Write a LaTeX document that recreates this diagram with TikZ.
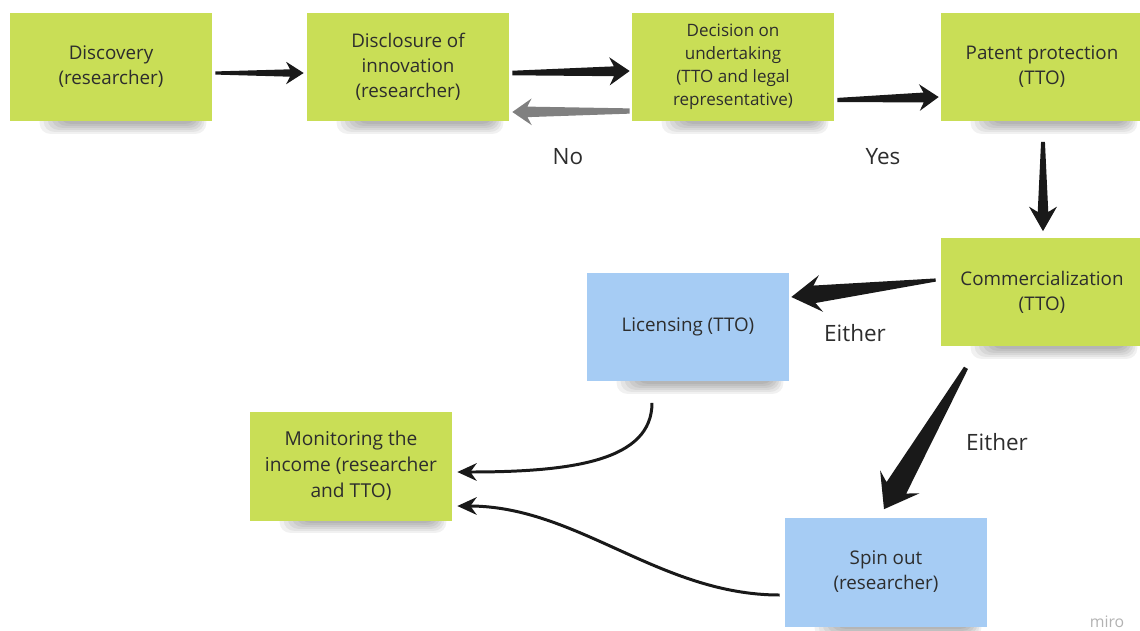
\documentclass[tikz,border=0pt]{standalone}
\usepackage{fontspec}
\setmainfont{Open Sans}
\usetikzlibrary{calc, arrows.meta, backgrounds}

\definecolor{notegreen}{RGB}{201,222,86}
\definecolor{noteblue}{RGB}{166,204,244}
\definecolor{inkgray}{RGB}{45,45,45}
\definecolor{backgray}{RGB}{128,128,128}

\tikzset{
  note/.style={rectangle, fill=notegreen, minimum width=4.04cm, minimum height=2.18cm,
    align=center, text=inkgray, font=\fontsize{10.7}{14.2}\selectfont},
  bluenote/.style={note, fill=noteblue},
  answer/.style={text=inkgray, font=\fontsize{12.8}{15}\selectfont},
  % tapered arrow: tail half width, neck half width, head half width, head length
  taper/.style n args={4}{to path={
      ($(\tikztotarget)!#4!(\tikztostart)$) coordinate (tpH)
      ($(tpH)!0.22!(\tikztotarget)$) coordinate (tpN)
      ($(\tikztostart)!#1!90:(\tikztotarget)$) --
      ($(tpN)!#2!90:(\tikztotarget)$) --
      ($(tpH)!#3!90:(\tikztotarget)$) --
      (\tikztotarget) --
      ($(tpH)!#3!-90:(\tikztotarget)$) --
      ($(tpN)!#2!-90:(\tikztotarget)$) --
      ($(\tikztostart)!#1!-90:(\tikztotarget)$) -- cycle}},
  curved/.style={draw=black!90, line width=1.7pt, -{Stealth[length=11pt, width=10pt]}}
}

\begin{document}
\begin{tikzpicture}[x=0.02cm, y=-0.02cm]
  \useasboundingbox (0,0) rectangle (1140,630);

  % top row
  \node[note] (disc) at (111,67) {Discovery\\(researcher)};
  \node[note] (discl) at (408,67) {Disclosure of\\innovation\\(researcher)};
  \node[note, font=\fontsize{9.7}{13}\selectfont] (dec) at (733,67)
    {Decision on\\undertaking\\(TTO and legal\\representative)};
  \node[note] (pat) at (1042,67) {Patent protection\\(TTO)};

  % commercialization branch
  \node[note] (comm) at (1042,292) {Commercialization\\(TTO)};
  \node[bluenote] (lic) at (688,327) {Licensing (TTO)};
  \node[bluenote] (spin) at (886,572) {Spin out\\(researcher)};
  \node[note, font=\fontsize{10.9}{14.7}\selectfont] (mon) at (351,466)
    {Monitoring the\\income (researcher\\and TTO)};

  % soft shadows under the notes
  \begin{scope}[on background layer]
    \foreach \n in {disc, discl, dec, pat, comm, lic, mon, spin}
      \foreach \k in {1,...,6}
        \fill[black, opacity=0.055, rounded corners=6]
          ($(\n.south west)+(26+4*\k,-20)$) rectangle ($(\n.south east)+(-4-2*\k,14-2*\k)$);
  \end{scope}

  % arrow ends
  \coordinate (a1s) at ($(disc.east)+(3,6)$);
  \coordinate (a1e) at ($(discl.west)+(-3,6)$);
  \coordinate (a2s) at ($(discl.east)+(3,6)$);
  \coordinate (a2e) at ($(dec.west)+(-2,4)$);
  \coordinate (a3s) at ($(dec.west)+(-2,44)$);
  \coordinate (a3e) at ($(discl.east)+(3,45)$);
  \coordinate (a4s) at ($(dec.east)+(3,33)$);
  \coordinate (a4e) at ($(pat.west)+(-2,30)$);
  \coordinate (a5s) at ($(pat.south)+(1,20)$);
  \coordinate (a5e) at ($(comm.north)+(1,-6)$);
  \coordinate (a6s) at ($(comm.west)+(-5,-12)$);
  \coordinate (a6e) at ($(lic.east)+(2,-30)$);
  \coordinate (a7s) at ($(comm.south)+(-76,21)$);
  \coordinate (a7e) at ($(spin.north)+(-2,-8)$);

  % tapered arrows
  \fill[black!90] (a1s) to[taper={0.9pt}{2.1pt}{6.4pt}{10pt}] (a1e);
  \fill[black!90] (a2s) to[taper={1.3pt}{2.8pt}{8pt}{11.5pt}] (a2e);
  \fill[backgray] (a3s) to[taper={1.5pt}{3pt}{7.6pt}{11pt}] (a3e);
  \fill[black!90] (a4s) to[taper={1.2pt}{2.8pt}{7.6pt}{11pt}] (a4e);
  \fill[black!90] (a5s) to[taper={1.1pt}{3pt}{8pt}{14pt}] (a5e);
  \fill[black!90] (a6s) to[taper={0.9pt}{5pt}{10.5pt}{17pt}] (a6e);
  \fill[black!90] (a7s) to[taper={1.3pt}{6.5pt}{13pt}{18pt}] (a7e);

  % answers
  \node[answer] (no) at (568,157) {No};
  \node[answer] (yes) at (883,157) {Yes};
  \node[answer] (either1) at (855,333) {Either};
  \node[answer] (either2) at (997,442) {Either};

  % curved arrows into monitoring
  \coordinate (c1s) at ($(lic.south)+(-36,21)$);
  \coordinate (c1e) at ($(mon.east)+(5,6)$);
  \coordinate (c2s) at ($(spin.west)+(-5,23)$);
  \coordinate (c2e) at ($(mon.east)+(5,40)$);
  \draw[curved] (c1s) .. controls +(0,58) and +(115,0) .. (c1e);
  \draw[curved] (c2s) .. controls +(-120,0) and +(120,0) .. (c2e);

  \node[text=black!30, font=\fontsize{9}{10}\selectfont] (miro) at (1107,622) {miro};
\end{tikzpicture}
\end{document}
